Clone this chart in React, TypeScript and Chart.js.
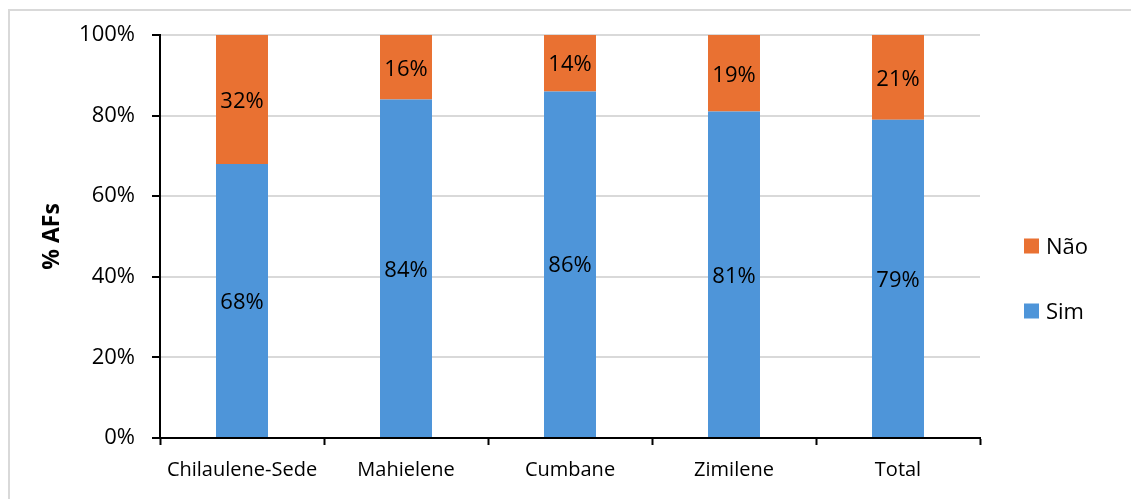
import React, { useEffect, useRef } from "react";
import { Chart, registerables } from "chart.js";

Chart.register(...registerables);

// Categories and shares (percent of AFs)
const categories = ["Chilaulene-Sede", "Mahielene", "Cumbane", "Zimilene", "Total"];
const simValues = [68, 84, 86, 81, 79];
const naoValues = [32, 16, 14, 19, 21];
const seriesNames = ["Sim", "Não"];
const seriesColors = ["#4E95D9", "#E97132"];
const yTicks = [0, 20, 40, 60, 80, 100];
const yTitle = "% AFs";

const FONT = "'Open Sans', 'Noto Sans', sans-serif";

// Writes each segment's value in the middle of the segment
const segmentLabels = {
  id: "segmentLabels",
  afterDatasetsDraw(chart: any) {
    const { ctx } = chart;
    ctx.save();
    ctx.font = `22px ${FONT}`;
    ctx.fillStyle = "#000";
    ctx.textAlign = "center";
    ctx.textBaseline = "middle";
    chart.data.datasets.forEach((ds: any, di: number) => {
      const meta = chart.getDatasetMeta(di);
      meta.data.forEach((bar: any, i: number) => {
        const cy = (bar.y + bar.base) / 2;
        ctx.fillText(`${ds.data[i]}%`, bar.x, cy + 2);
      });
    });
    ctx.restore();
  },
};

// Legend on the right, last series on top
const sideLegend = {
  id: "sideLegend",
  afterDraw(chart: any) {
    const { ctx } = chart;
    ctx.save();
    ctx.font = `22px ${FONT}`;
    ctx.textAlign = "left";
    ctx.textBaseline = "middle";
    const x = 1024;
    const rows = [
      { name: seriesNames[1], color: seriesColors[1], y: 246 },
      { name: seriesNames[0], color: seriesColors[0], y: 311 },
    ];
    rows.forEach((r) => {
      ctx.fillStyle = r.color;
      ctx.fillRect(x, r.y - 7.5, 15, 15);
      ctx.fillStyle = "#000";
      ctx.fillText(r.name, x + 22, r.y + 1.5);
    });
    ctx.restore();
  },
};

export default function App() {
  const canvasRef = useRef<HTMLCanvasElement | null>(null);

  useEffect(() => {
    if (!canvasRef.current) return;
    const chart = new Chart(canvasRef.current, {
      type: "bar",
      data: {
        labels: categories,
        datasets: [
          {
            label: seriesNames[0],
            data: simValues,
            backgroundColor: seriesColors[0],
            barPercentage: 1,
            categoryPercentage: 0.317,
          },
          {
            label: seriesNames[1],
            data: naoValues,
            backgroundColor: seriesColors[1],
            barPercentage: 1,
            categoryPercentage: 0.317,
          },
        ],
      },
      options: {
        responsive: false,
        animation: false,
        devicePixelRatio: 1,
        layout: { padding: { top: 35, right: 151, bottom: 0, left: 0 } },
        plugins: {
          legend: { display: false },
          tooltip: { enabled: false },
        },
        scales: {
          x: {
            stacked: true,
            grid: {
              offset: true,
              drawOnChartArea: false,
              drawTicks: true,
              tickLength: 7,
              tickColor: "#000",
              tickWidth: 2,
            },
            border: { color: "#000", width: 2 },
            ticks: {
              color: "#000",
              font: { family: FONT, size: 20 },
              padding: 13,
              maxRotation: 0,
            },
            afterFit(scale: any) {
              scale.height = 61;
            },
          },
          y: {
            stacked: true,
            min: 0,
            max: 100,
            afterBuildTicks(scale: any) {
              scale.ticks = yTicks.map((v) => ({ value: v }));
            },
            grid: {
              color: "#D9D9D9",
              lineWidth: 2,
              drawTicks: true,
              tickLength: 8,
              tickColor: "#000",
              tickWidth: 2,
            },
            border: { color: "#000", width: 2 },
            ticks: {
              color: "#000",
              font: { family: FONT, size: 22 },
              padding: 17,
              callback: (v: any) => `${v}%`,
            },
            title: {
              display: true,
              text: yTitle,
              color: "#000",
              font: { family: FONT, size: 23, weight: "bold" },
              padding: { top: 39, bottom: 0 },
            },
            afterFit(scale: any) {
              scale.width = 160;
            },
          },
        },
      },
      plugins: [segmentLabels, sideLegend],
    });
    return () => chart.destroy();
  }, []);

  return (
    <div
      style={{
        position: "absolute",
        left: 0,
        top: 0,
        width: 1131,
        height: 499,
        overflow: "hidden",
        background: "#fff",
      }}
    >
      <div
        style={{
          position: "absolute",
          left: 8,
          top: 9,
          width: 1300,
          height: 700,
          border: "2px solid #D9D9D9",
          boxSizing: "border-box",
        }}
      />
      <canvas
        ref={canvasRef}
        width={1131}
        height={499}
        style={{ position: "absolute", left: 0, top: 0, width: 1131, height: 499 }}
      />
    </div>
  );
}
